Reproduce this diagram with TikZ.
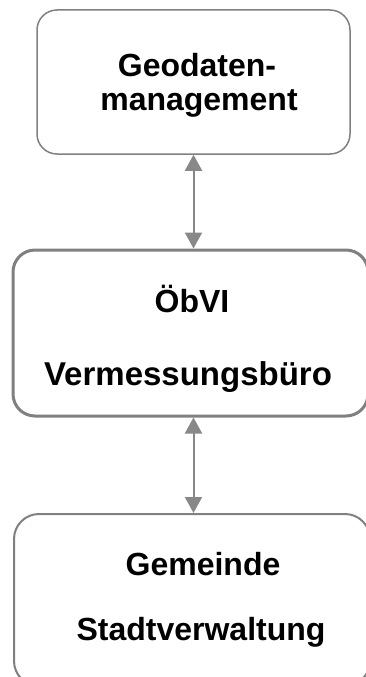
\documentclass[tikz,border=0pt]{standalone}
\usepackage{fontspec}
\setmainfont{Liberation Sans}
\usetikzlibrary{arrows.meta}
\definecolor{boxgray}{HTML}{808080}
\definecolor{arrowgray}{HTML}{888888}
\begin{document}
\begin{tikzpicture}[x=1pt,y=-1pt,
  box/.style={draw=boxgray, fill=white, inner sep=0pt},
  lbl/.style={font=\bfseries\fontsize{32}{35}\selectfont, inner sep=0pt, anchor=base},
  link/.style={draw=arrowgray, line width=2pt, {Triangle[width=17pt,length=16pt]}-{Triangle[width=17pt,length=16pt]}}]
\useasboundingbox (0,0) rectangle (366,677);
\clip (0,0) rectangle (366,677);
\node[box, line width=1.5pt, rounded corners=20pt, minimum width=313pt, minimum height=144pt] (geo) at (193.5,82) {};
\node[box, line width=3pt, rounded corners=22pt, minimum width=355pt, minimum height=166pt] (obvi) at (190.5,333) {};
\node[box, line width=2pt, rounded corners=25pt, minimum width=356pt, minimum height=172pt] (gem) at (192,600) {};
\node[lbl] (t1) at (197,77) {Geodaten-};
\node[lbl] (t2) at (199,110) {management};
\node[lbl] (t3) at (192,312) {ÖbVI};
\node[lbl, font=\bfseries\fontsize{33}{36}\selectfont] (t4) at (188,385) {Vermessungsbüro};
\node[lbl] (t5) at (203,575) {Gemeinde};
\node[lbl] (t6) at (201,640) {Stadtverwaltung};
\draw[link] (geo.south) -- (geo.south |- obvi.north);
\draw[link] (geo.south |- obvi.south) -- (geo.south |- gem.north);
\end{tikzpicture}
\end{document}
